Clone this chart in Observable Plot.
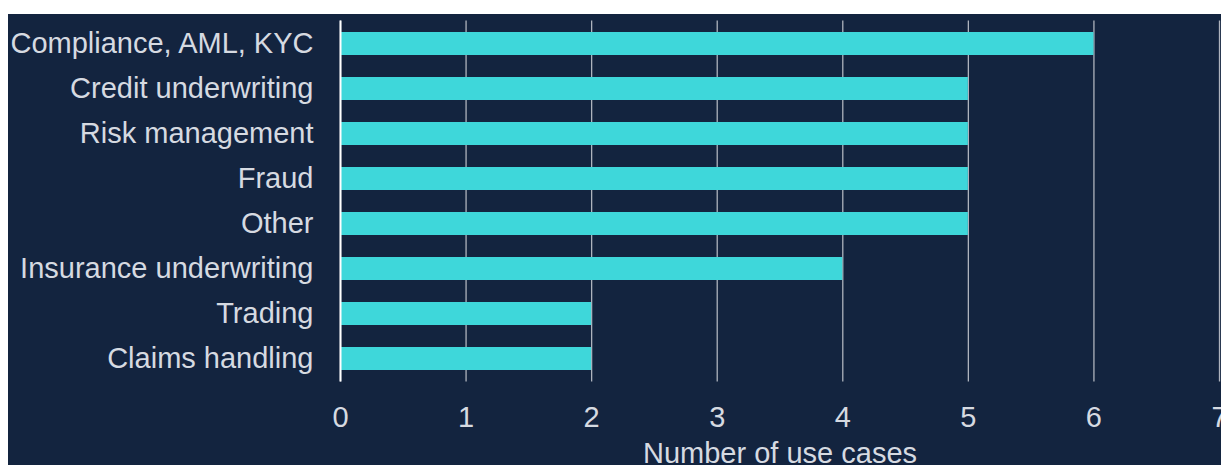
<!DOCTYPE html>
<html>
<head>
<meta charset="utf-8">
<script src="https://cdn.jsdelivr.net/npm/d3@7"></script>
<script src="https://cdn.jsdelivr.net/npm/@observablehq/plot@0.6"></script>
<style>
  html, body { margin: 0; padding: 0; background: #ffffff; }
  #panel {
    position: absolute; left: 8px; top: 14px;
    width: 1213px; height: 451px;
    background: #13243f; overflow: hidden;
  }
</style>
</head>
<body>
<div id="panel"></div>
<script>
const categories = [
  "Compliance, AML, KYC",
  "Credit underwriting",
  "Risk management",
  "Fraud",
  "Other",
  "Insurance underwriting",
  "Trading",
  "Claims handling"
];
const values = [6, 5, 5, 5, 5, 4, 2, 2];
const xTicks = [0, 1, 2, 3, 4, 5, 6, 7];
const xLabel = "Number of use cases";

const data = categories.map((c, i) => ({category: c, value: values[i]}));

const textColor = "#d6dae1";
const font = "'Liberation Sans', Arial, sans-serif";

const chart = Plot.plot({
  width: 1213,
  height: 451,
  marginLeft: 332,
  marginRight: 2,
  marginTop: 6.5,
  marginBottom: 83.5,
  style: {background: "transparent", color: textColor, fontFamily: font, fontSize: "29px"},
  x: {domain: [0, 7], ticks: xTicks},
  y: {domain: categories, paddingInner: 0.5, paddingOuter: 0.25},
  marks: [
    Plot.gridX(xTicks, {stroke: "#aeb3bd", strokeOpacity: 1, strokeWidth: 1.3}),
    Plot.barX(data, {x: "value", y: "category", fill: "#3ed7da"}),
    Plot.ruleX([0], {stroke: "#ffffff", strokeWidth: 2}),
    Plot.axisX(xTicks, {tickSize: 0, tickPadding: 24, fontSize: 29, tickFormat: "d", label: null, fill: textColor}),
    Plot.axisY({tickSize: 0, tickPadding: 27, fontSize: 29, label: null, fill: textColor}),
    Plot.text([xLabel], {frameAnchor: "bottom", dy: 72, lineAnchor: "middle", fontSize: 29, fill: textColor})
  ]
});
document.getElementById("panel").appendChild(chart);
</script>
</body>
</html>
